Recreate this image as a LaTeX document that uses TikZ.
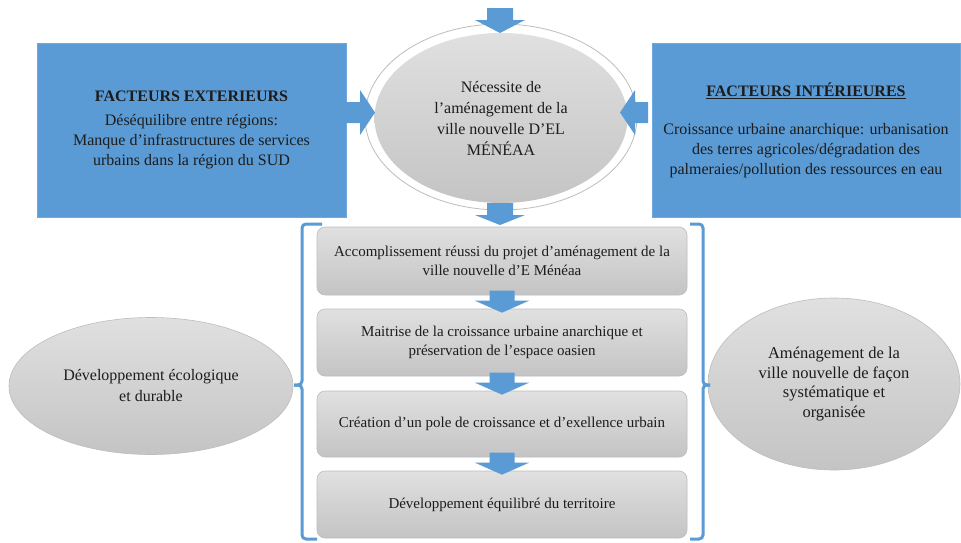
\documentclass[tikz,border=0pt]{standalone}
\usepackage{fontspec}
\setmainfont{Liberation Serif}
\usetikzlibrary{shapes.geometric}
\definecolor{bblue}{HTML}{5B9BD5}
\definecolor{bedge}{HTML}{6FA8DC}
\definecolor{txt}{HTML}{1C1C1C}
\definecolor{gtop}{HTML}{E0E0E0}
\definecolor{gbot}{HTML}{C4C4C4}
\definecolor{gedge}{HTML}{BDBDBD}
\begin{document}
\begin{tikzpicture}[x=1pt,y=-1pt,
  bluebox/.style={rectangle, fill=bblue, draw=bedge, line width=0.8pt, text=txt, align=center, inner sep=0pt},
  grayell/.style={ellipse, top color=gtop, bottom color=gbot, draw=gedge, line width=0.6pt, text=txt, align=center, inner sep=0pt},
  stepbox/.style={rectangle, rounded corners=8pt, top color=gtop, bottom color=gbot, draw=gedge, line width=0.6pt, text=txt, align=center, minimum width=370pt, inner sep=0pt},
  brk/.style={draw=bblue, line width=3pt, rounded corners=4pt},
  blk/.style={fill=bblue}]
\useasboundingbox (0,0) rectangle (961,542);
\fill[white] (0,0) rectangle (961,542);

% blue boxes
\node[bluebox, minimum width=309pt, minimum height=174pt, font=\fontsize{16}{20}\selectfont] (ext) at (191.5,130)
  {\textbf{FACTEURS EXTERIEURS}\\[4pt]Déséquilibre entre régions:\\Manque d’infrastructures de services\\urbains dans la région du SUD};
\node[bluebox, minimum width=308pt, minimum height=174pt, font=\fontsize{16}{20}\selectfont] (int) at (806,130)
  {\underline{\textbf{FACTEURS INTÉRIEURES}}\\[18pt]Croissance urbaine anarchique: urbanisation\\des terres agricoles/dégradation des\\palmeraies/pollution des ressources en eau};

% central ellipse
\node[ellipse, fill=white, draw=gedge, line width=0.8pt, minimum width=272pt, minimum height=186pt] (ring) at (501,117) {};
\node[grayell, draw=none, minimum width=253pt, minimum height=170pt, font=\fontsize{16}{21}\selectfont] (need) at (501,118)
  {Nécessite de\\l’aménagement de la\\ville nouvelle D’EL\\MÉNÉAA};

% side ellipses
\node[grayell, minimum width=284pt, minimum height=137pt, font=\fontsize{16}{21}\selectfont] (eco) at (151,386)
  {Développement écologique\\et durable};
\node[grayell, minimum width=252pt, minimum height=172pt, font=\fontsize{16.5}{19.5}\selectfont] (amen) at (834,384)
  {Aménagement de la\\ville nouvelle de façon\\systématique et\\organisée};

% step boxes
\node[stepbox, minimum height=68pt, font=\fontsize{15}{19}\selectfont] (s1) at (502,261)
  {Accomplissement réussi du projet d’aménagement de la\\ville nouvelle d’E Ménéaa};
\node[stepbox, minimum height=67pt, font=\fontsize{15}{19}\selectfont] (s2) at (502,342.5)
  {Maitrise de la croissance urbaine anarchique et\\préservation de l’espace oasien};
\node[stepbox, minimum height=66pt, font=\fontsize{15}{19}\selectfont] (s3) at (502,424)
  {Création d’un pole de croissance et d’exellence urbain};
\node[stepbox, minimum height=67pt, font=\fontsize{15}{19}\selectfont] (s4) at (502,504.5)
  {Développement équilibré du territoire};

% brackets
\draw[brk] (322,224) -- (302,224) -- (302,385) -- (294,385);
\draw[brk] (294,385) -- (302,385) -- (302,539) -- (317,539);
\draw[brk] (690,224) -- (703,224) -- (703,385) -- (710,385);
\draw[brk] (710,385) -- (703,385) -- (703,539) -- (690,539);

% block arrows
\coordinate (topin) at (500,33);
\fill[blk] (topin) -- ++(-25,-13) -- ++(12,0) -- ++(0,-12) -- ++(26,0) -- ++(0,12) -- ++(12,0) -- cycle;
\coordinate (needout) at (500,225);
\fill[blk] (needout) -- ++(-25,-10) -- ++(12,0) -- ++(0,-12) -- ++(26,0) -- ++(0,12) -- ++(12,0) -- cycle;
\coordinate (extin) at (375,112.5);
\fill[blk] (extin) -- ++(-15,-22.5) -- ++(0,12) -- ++(-18,0) -- ++(0,21) -- ++(18,0) -- ++(0,12) -- cycle;
\coordinate (intin) at (620,112.5);
\fill[blk] (intin) -- ++(15,-22.5) -- ++(0,12) -- ++(13,0) -- ++(0,21) -- ++(-13,0) -- ++(0,12) -- cycle;
\foreach \a/\b in {s1/s2, s2/s3, s3/s4}{
  \fill[blk] (\b.north) ++(0,4) -- ++(-27,-12) -- ++(14.5,0) -- ++(0,-10) -- ++(25,0) -- ++(0,10) -- ++(14.5,0) -- cycle;
}
\end{tikzpicture}
\end{document}
